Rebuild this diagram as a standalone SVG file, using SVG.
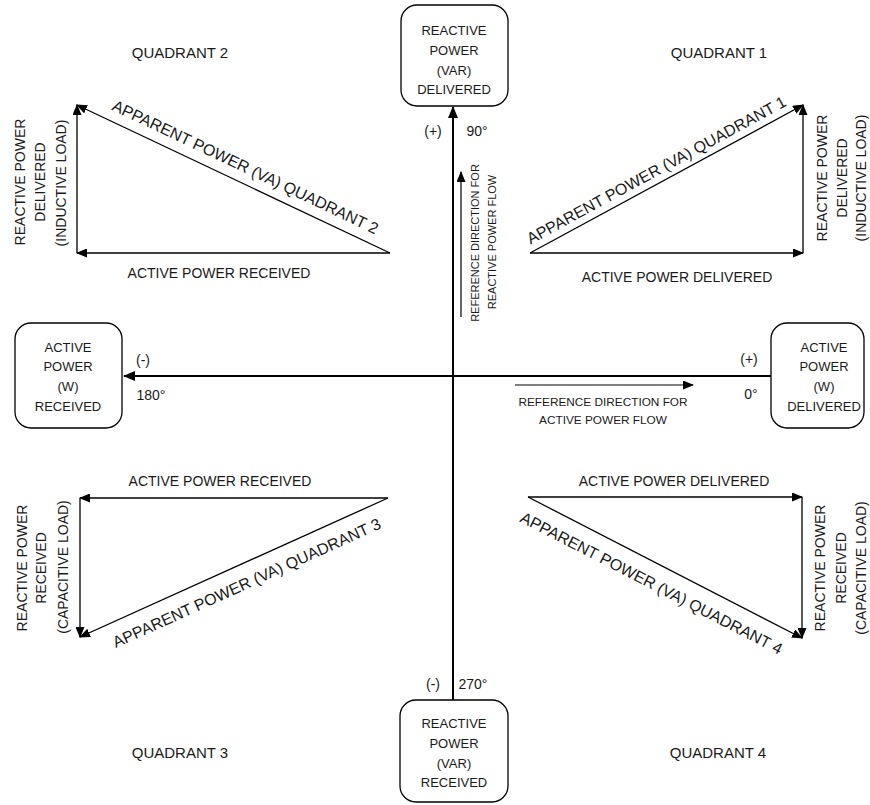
<svg xmlns="http://www.w3.org/2000/svg" width="870" height="805" viewBox="0 0 870 805">
  <defs>
    <marker id="head" markerUnits="userSpaceOnUse" markerWidth="12" markerHeight="10" refX="11" refY="5" orient="auto">
      <path d="M0,0 L12,5 L0,10 Z" fill="#000"/>
    </marker>
    <marker id="headSmall" markerUnits="userSpaceOnUse" markerWidth="11" markerHeight="9" refX="10" refY="4.5" orient="auto">
      <path d="M0,0 L11,4.5 L0,9 Z" fill="#000"/>
    </marker>
  </defs>
  <style>
    text { font-family: "Liberation Sans", Arial, sans-serif; fill: #1a1a1a; }
    .box { fill: #fff; stroke: #000; stroke-width: 1.3; }
    .boxtxt { font-size: 13px; text-anchor: middle; dominant-baseline: central; }
    .lbl { font-size: 14px; text-anchor: middle; dominant-baseline: central; }
    .quad { font-size: 15px; text-anchor: middle; dominant-baseline: central; }
    .va { font-size: 16px; text-anchor: middle; }
    .axis { stroke: #000; stroke-width: 2; fill: none; marker-start: url(#head); marker-end: url(#head); }
    .vec { stroke: #000; stroke-width: 1.3; fill: none; marker-end: url(#headSmall); }
    .ref { stroke: #000; stroke-width: 1.2; fill: none; marker-end: url(#headSmall); }
  </style>

  <!-- axes and reference arrows -->
  <g id="connectors">
    <line class="axis" x1="453" y1="700" x2="453" y2="107"/>
    <line class="axis" x1="771" y1="376" x2="124" y2="376"/>
    <line class="ref" x1="461" y1="317" x2="461" y2="172"/>
    <line class="ref" x1="515" y1="385" x2="693" y2="385"/>

    <!-- quadrant 1 -->
    <line class="vec" x1="530" y1="253" x2="803" y2="253"/>
    <line class="vec" x1="803" y1="253" x2="803" y2="105"/>
    <line class="vec" x1="530" y1="253" x2="803" y2="105"/>
    <!-- quadrant 2 -->
    <line class="vec" x1="390" y1="253" x2="77" y2="253"/>
    <line class="vec" x1="77" y1="253" x2="77" y2="105"/>
    <line class="vec" x1="390" y1="253" x2="77" y2="105"/>
    <!-- quadrant 3 -->
    <line class="vec" x1="388" y1="498" x2="80" y2="498"/>
    <line class="vec" x1="80" y1="498" x2="80" y2="637"/>
    <line class="vec" x1="388" y1="498" x2="80" y2="637"/>
    <!-- quadrant 4 -->
    <line class="vec" x1="528" y1="497" x2="802" y2="497"/>
    <line class="vec" x1="802" y1="497" x2="802" y2="638"/>
    <line class="vec" x1="528" y1="497" x2="802" y2="638"/>
  </g>

  <!-- end boxes -->
  <g id="var-delivered">
    <rect class="box" x="401" y="5" width="107" height="101" rx="16"/>
    <text class="boxtxt" x="454" y="30">REACTIVE</text>
    <text class="boxtxt" x="454" y="50">POWER</text>
    <text class="boxtxt" x="454" y="70">(VAR)</text>
    <text class="boxtxt" x="454" y="89">DELIVERED</text>
  </g>
  <g id="w-received">
    <rect class="box" x="15" y="323" width="107" height="105" rx="16"/>
    <text class="boxtxt" x="68" y="347">ACTIVE</text>
    <text class="boxtxt" x="68" y="366">POWER</text>
    <text class="boxtxt" x="68" y="386">(W)</text>
    <text class="boxtxt" x="68" y="406">RECEIVED</text>
  </g>
  <g id="w-delivered">
    <rect class="box" x="771" y="323" width="93" height="105" rx="16"/>
    <text class="boxtxt" x="824" y="347">ACTIVE</text>
    <text class="boxtxt" x="824" y="366">POWER</text>
    <text class="boxtxt" x="824" y="386">(W)</text>
    <text class="boxtxt" x="824" y="406">DELIVERED</text>
  </g>
  <g id="var-received">
    <rect class="box" x="400" y="700" width="108" height="102" rx="16"/>
    <text class="boxtxt" x="454" y="723">REACTIVE</text>
    <text class="boxtxt" x="454" y="743">POWER</text>
    <text class="boxtxt" x="454" y="763">(VAR)</text>
    <text class="boxtxt" x="454" y="782">RECEIVED</text>
  </g>

  <!-- axis annotations -->
  <g id="axis-labels">
    <text class="lbl" x="433" y="131">(+)</text>
    <text class="lbl" x="477" y="131">90°</text>
    <text class="lbl" x="143" y="360">(-)</text>
    <text class="lbl" x="151" y="395">180°</text>
    <text class="lbl" x="749" y="359">(+)</text>
    <text class="lbl" x="751" y="394">0°</text>
    <text class="lbl" x="433" y="684">(-)</text>
    <text class="lbl" x="473" y="684">270°</text>
  </g>

  <g id="reactive-reference">
    <g transform="translate(475,243) rotate(-90)">
      <text x="0" y="0" style="font-size:11px;text-anchor:middle;dominant-baseline:central">REFERENCE DIRECTION FOR</text>
    </g>
    <g transform="translate(492,242) rotate(-90)">
      <text x="0" y="0" style="font-size:11px;text-anchor:middle;dominant-baseline:central">REACTIVE POWER FLOW</text>
    </g>
  </g>
  <g id="active-reference">
    <text x="603" y="402" style="font-size:11.8px;text-anchor:middle;dominant-baseline:central">REFERENCE DIRECTION FOR</text>
    <text x="603" y="420" style="font-size:11.8px;text-anchor:middle;dominant-baseline:central">ACTIVE POWER FLOW</text>
  </g>

  <!-- quadrant 1 -->
  <g id="quadrant-1">
    <text class="quad" x="719" y="52">QUADRANT 1</text>
    <text class="va" transform="translate(659,175) rotate(-28.46)">APPARENT POWER (VA) QUADRANT 1</text>
    <text class="lbl" x="677" y="277">ACTIVE POWER DELIVERED</text>
    <text class="lbl" transform="translate(822,178) rotate(-90)">REACTIVE POWER</text>
    <text class="lbl" transform="translate(842,178) rotate(-90)">DELIVERED</text>
    <text class="lbl" transform="translate(861,178) rotate(-90)">(INDUCTIVE LOAD)</text>
  </g>

  <!-- quadrant 2 -->
  <g id="quadrant-2">
    <text class="quad" x="180" y="52">QUADRANT 2</text>
    <text class="va" transform="translate(243,172) rotate(25.3)">APPARENT POWER (VA) QUADRANT 2</text>
    <text class="lbl" x="219" y="273">ACTIVE POWER RECEIVED</text>
    <text class="lbl" transform="translate(20,182) rotate(-90)">REACTIVE POWER</text>
    <text class="lbl" transform="translate(40,182) rotate(-90)">DELIVERED</text>
    <text class="lbl" transform="translate(61,183) rotate(-90)">(INDUCTIVE LOAD)</text>
  </g>

  <!-- quadrant 3 -->
  <g id="quadrant-3">
    <text class="quad" x="180" y="752">QUADRANT 3</text>
    <text class="va" transform="translate(249,588) rotate(-24.3)">APPARENT POWER (VA) QUADRANT 3</text>
    <text class="lbl" x="220" y="481">ACTIVE POWER RECEIVED</text>
    <text class="lbl" transform="translate(22,568) rotate(-90)">REACTIVE POWER</text>
    <text class="lbl" transform="translate(41,568) rotate(-90)">RECEIVED</text>
    <text class="lbl" transform="translate(63,567) rotate(-90)">(CAPACITIVE LOAD)</text>
  </g>

  <!-- quadrant 4 -->
  <g id="quadrant-4">
    <text class="quad" x="718" y="752">QUADRANT 4</text>
    <text class="va" transform="translate(649,588) rotate(27.23)">APPARENT POWER (VA) QUADRANT 4</text>
    <text class="lbl" x="674" y="481">ACTIVE POWER DELIVERED</text>
    <text class="lbl" transform="translate(820,568) rotate(-90)">REACTIVE POWER</text>
    <text class="lbl" transform="translate(841,568) rotate(-90)">RECEIVED</text>
    <text class="lbl" transform="translate(861,568) rotate(-90)">(CAPACITIVE LOAD)</text>
  </g>
</svg>
